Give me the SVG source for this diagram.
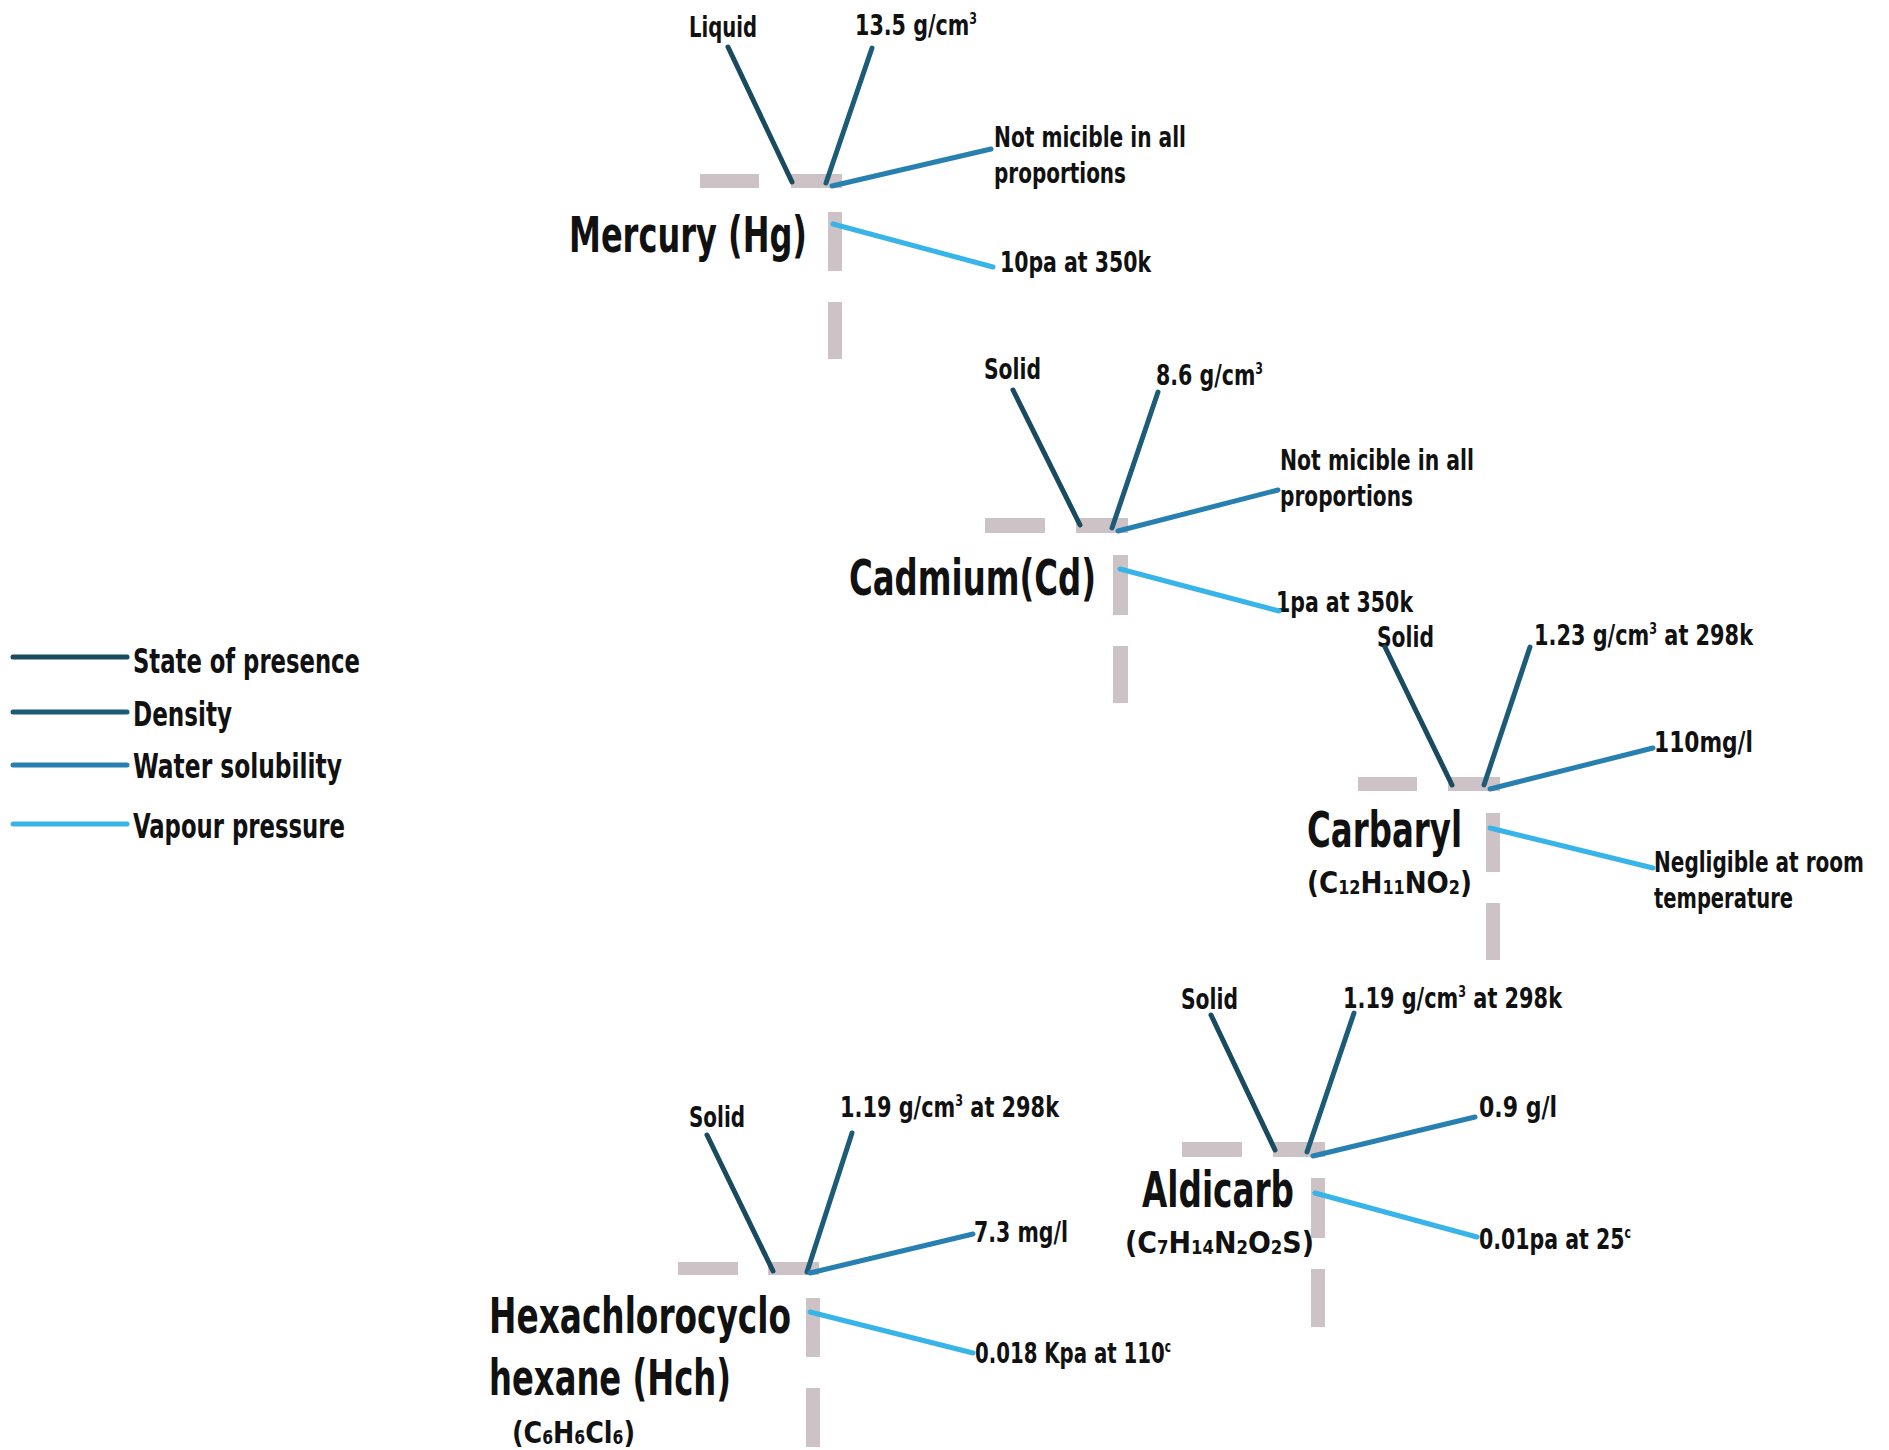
<svg xmlns="http://www.w3.org/2000/svg" width="1889" height="1450" viewBox="0 0 1889 1450">
<style>
text{font-family:"Liberation Sans Narrow","DejaVu Sans Condensed","Liberation Sans",sans-serif;font-weight:bold;fill:#111}
.lbl{font-size:28px}
.ttl{font-size:50px}
.frm{font-size:31px}
.leg{font-size:34px}
.sub{font-size:19px}
.sup{font-size:15px}
.bar{fill:#cdc3c7}
.c{fill:none;stroke-width:5;stroke-linecap:round}
.st{stroke:#1a4a5f}
.de{stroke:#1d5c79}
.ws{stroke:#2880b0}
.vp{stroke:#38b4e8}
</style>
<rect width="1889" height="1450" fill="#fff"/>

<g id="legend">
<line class="c st" x1="13" y1="657" x2="127" y2="657"/>
<line class="c de" x1="13" y1="712" x2="127" y2="712"/>
<line class="c ws" x1="13" y1="765" x2="127" y2="765"/>
<line class="c vp" x1="13" y1="824" x2="127" y2="824"/>
<text class="leg" x="133" y="673" textLength="227" lengthAdjust="spacingAndGlyphs">State of presence</text>
<text class="leg" x="133" y="726" textLength="99" lengthAdjust="spacingAndGlyphs">Density</text>
<text class="leg" x="133" y="778" textLength="209" lengthAdjust="spacingAndGlyphs">Water solubility</text>
<text class="leg" x="133" y="838" textLength="212" lengthAdjust="spacingAndGlyphs">Vapour pressure</text>
</g>

<g id="mercury">
<rect class="bar" x="700" y="174" width="59" height="14"/>
<rect class="bar" x="791" y="174" width="51" height="14"/>
<rect class="bar" x="828" y="212" width="14" height="59"/>
<rect class="bar" x="828" y="302" width="14" height="57"/>
<text class="ttl" x="569" y="252" textLength="238" lengthAdjust="spacingAndGlyphs">Mercury (Hg)</text>
<text class="lbl" x="689" y="37" textLength="68" lengthAdjust="spacingAndGlyphs">Liquid</text>
<text class="lbl" x="855" y="35" textLength="122" lengthAdjust="spacingAndGlyphs">13.5 g/cm<tspan class="sup" dy="-11">3</tspan></text>
<text class="lbl" x="994" y="147" textLength="192" lengthAdjust="spacingAndGlyphs">Not micible in all</text>
<text class="lbl" x="994" y="183" textLength="132" lengthAdjust="spacingAndGlyphs">proportions</text>
<text class="lbl" x="1000" y="272" textLength="151" lengthAdjust="spacingAndGlyphs">10pa at 350k</text>
</g>

<g id="cadmium">
<rect class="bar" x="985" y="518" width="60" height="15"/>
<rect class="bar" x="1076" y="518" width="52" height="15"/>
<rect class="bar" x="1113" y="555" width="15" height="60"/>
<rect class="bar" x="1113" y="646" width="15" height="57"/>
<text class="ttl" x="849" y="595" textLength="247" lengthAdjust="spacingAndGlyphs">Cadmium(Cd)</text>
<text class="lbl" x="984" y="379" textLength="57" lengthAdjust="spacingAndGlyphs">Solid</text>
<text class="lbl" x="1156" y="385" textLength="107" lengthAdjust="spacingAndGlyphs">8.6 g/cm<tspan class="sup" dy="-11">3</tspan></text>
<text class="lbl" x="1280" y="470" textLength="194" lengthAdjust="spacingAndGlyphs">Not micible in all</text>
<text class="lbl" x="1280" y="506" textLength="133" lengthAdjust="spacingAndGlyphs">proportions</text>
<text class="lbl" x="1276" y="612" textLength="137" lengthAdjust="spacingAndGlyphs">1pa at 350k</text>
</g>

<g id="carbaryl">
<rect class="bar" x="1358" y="777" width="59" height="14"/>
<rect class="bar" x="1448" y="777" width="52" height="14"/>
<rect class="bar" x="1486" y="813" width="14" height="59"/>
<rect class="bar" x="1486" y="903" width="14" height="57"/>
<text class="ttl" x="1307" y="847" textLength="155" lengthAdjust="spacingAndGlyphs">Carbaryl</text>
<text class="frm" x="1307" y="893" textLength="165" lengthAdjust="spacingAndGlyphs">(C<tspan class="sub" dy="1">12</tspan><tspan dy="-1">H</tspan><tspan class="sub" dy="1">11</tspan><tspan dy="-1">NO</tspan><tspan class="sub" dy="1">2</tspan><tspan dy="-1">)</tspan></text>
<text class="lbl" x="1377" y="647" textLength="57" lengthAdjust="spacingAndGlyphs">Solid</text>
<text class="lbl" x="1534" y="645" textLength="219" lengthAdjust="spacingAndGlyphs">1.23 g/cm<tspan class="sup" dy="-11">3</tspan><tspan dy="11"> at 298k</tspan></text>
<text class="lbl" x="1654" y="752" textLength="99" lengthAdjust="spacingAndGlyphs">110mg/l</text>
<text class="lbl" x="1654" y="872" textLength="210" lengthAdjust="spacingAndGlyphs">Negligible at room</text>
<text class="lbl" x="1654" y="908" textLength="139" lengthAdjust="spacingAndGlyphs">temperature</text>
</g>

<g id="aldicarb">
<rect class="bar" x="1182" y="1142" width="60" height="15"/>
<rect class="bar" x="1273" y="1142" width="52" height="15"/>
<rect class="bar" x="1311" y="1178" width="14" height="60"/>
<rect class="bar" x="1311" y="1269" width="14" height="58"/>
<text class="ttl" x="1142" y="1207" textLength="152" lengthAdjust="spacingAndGlyphs">Aldicarb</text>
<text class="frm" x="1125" y="1253" textLength="189" lengthAdjust="spacingAndGlyphs">(C<tspan class="sub" dy="1">7</tspan><tspan dy="-1">H</tspan><tspan class="sub" dy="1">14</tspan><tspan dy="-1">N</tspan><tspan class="sub" dy="1">2</tspan><tspan dy="-1">O</tspan><tspan class="sub" dy="1">2</tspan><tspan dy="-1">S)</tspan></text>
<text class="lbl" x="1181" y="1009" textLength="57" lengthAdjust="spacingAndGlyphs">Solid</text>
<text class="lbl" x="1343" y="1008" textLength="219" lengthAdjust="spacingAndGlyphs">1.19 g/cm<tspan class="sup" dy="-11">3</tspan><tspan dy="11"> at 298k</tspan></text>
<text class="lbl" x="1479" y="1117" textLength="78" lengthAdjust="spacingAndGlyphs">0.9 g/l</text>
<text class="lbl" x="1479" y="1249" textLength="152" lengthAdjust="spacingAndGlyphs">0.01pa at 25<tspan class="sup" dy="-11">c</tspan></text>
</g>

<g id="hch">
<rect class="bar" x="678" y="1262" width="60" height="13"/>
<rect class="bar" x="768" y="1262" width="51" height="13"/>
<rect class="bar" x="806" y="1298" width="14" height="59"/>
<rect class="bar" x="806" y="1388" width="14" height="59"/>
<text class="ttl" x="489" y="1333" textLength="302" lengthAdjust="spacingAndGlyphs">Hexachlorocyclo</text>
<text class="ttl" x="489" y="1395" textLength="242" lengthAdjust="spacingAndGlyphs">hexane (Hch)</text>
<text class="frm" x="512" y="1443" textLength="123" lengthAdjust="spacingAndGlyphs">(C<tspan class="sub" dy="1">6</tspan><tspan dy="-1">H</tspan><tspan class="sub" dy="1">6</tspan><tspan dy="-1">Cl</tspan><tspan class="sub" dy="1">6</tspan><tspan dy="-1">)</tspan></text>
<text class="lbl" x="689" y="1127" textLength="56" lengthAdjust="spacingAndGlyphs">Solid</text>
<text class="lbl" x="840" y="1117" textLength="219" lengthAdjust="spacingAndGlyphs">1.19 g/cm<tspan class="sup" dy="-11">3</tspan><tspan dy="11"> at 298k</tspan></text>
<text class="lbl" x="974" y="1242" textLength="94" lengthAdjust="spacingAndGlyphs">7.3 mg/l</text>
<text class="lbl" x="975" y="1363" textLength="196" lengthAdjust="spacingAndGlyphs">0.018 Kpa at 110<tspan class="sup" dy="-11">c</tspan></text>
</g>

<g id="connectors">
<line class="c st" x1="728" y1="47" x2="792" y2="182"/>
<line class="c de" x1="872" y1="48" x2="826" y2="183"/>
<line class="c ws" x1="832" y1="186" x2="991" y2="149"/>
<line class="c vp" x1="833" y1="224" x2="993" y2="267"/>

<line class="c st" x1="1013" y1="390" x2="1080" y2="525"/>
<line class="c de" x1="1158" y1="392" x2="1112" y2="528"/>
<line class="c ws" x1="1118" y1="531" x2="1278" y2="490"/>
<line class="c vp" x1="1120" y1="569" x2="1279" y2="611"/>

<line class="c st" x1="1385" y1="647" x2="1452" y2="785"/>
<line class="c de" x1="1530" y1="647" x2="1484" y2="785"/>
<line class="c ws" x1="1490" y1="789" x2="1653" y2="748"/>
<line class="c vp" x1="1490" y1="828" x2="1653" y2="868"/>

<line class="c st" x1="1211" y1="1015" x2="1275" y2="1150"/>
<line class="c de" x1="1354" y1="1013" x2="1307" y2="1152"/>
<line class="c ws" x1="1313" y1="1156" x2="1475" y2="1117"/>
<line class="c vp" x1="1315" y1="1193" x2="1477" y2="1237"/>

<line class="c st" x1="707" y1="1135" x2="773" y2="1271"/>
<line class="c de" x1="852" y1="1133" x2="807" y2="1272"/>
<line class="c ws" x1="810" y1="1273" x2="973" y2="1234"/>
<line class="c vp" x1="810" y1="1312" x2="973" y2="1353"/>
</g>
</svg>
